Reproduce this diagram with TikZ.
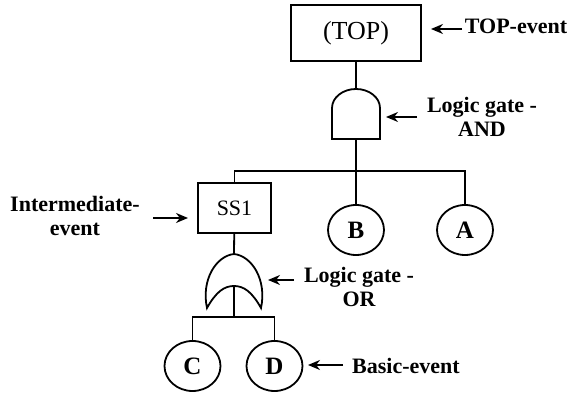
\documentclass[tikz,border=0pt]{standalone}
\usepackage{fontspec}
\setmainfont{Liberation Serif}
\usetikzlibrary{shapes.geometric,arrows.meta}

\begin{document}
\begin{tikzpicture}[x=0.5pt,y=-0.5pt,line width=0.9pt,
  event/.style={rectangle,draw,inner sep=0pt},
  basic/.style={ellipse,draw,inner sep=0pt,minimum width=28pt,minimum height=25pt,
    font=\fontsize{12.5}{14}\selectfont\bfseries},
  lbl/.style={align=center,inner sep=0pt,font=\fontsize{11}{12}\selectfont\bfseries},
  arr/.style={-{Stealth[length=6pt,width=5pt]}}]
\useasboundingbox (0,0) rectangle (585,394);

% events
\node [event,minimum width=65pt,minimum height=28pt,font=\fontsize{13}{14}\selectfont] (top) at (356,33) {(TOP)};
\node [event,minimum width=36.5pt,minimum height=25pt,font=\fontsize{11}{12}\selectfont] (ss1) at (234.5,208) {SS1};
\node [basic] (b) at (356,230) {B};
\node [basic] (a) at (465,230) {A};
\node [basic] (c) at (192.5,366) {C};
\node [basic] (d) at (274.5,366) {D};

% gates
\coordinate (and-in) at (356,89);
\coordinate (and-out) at (356,139);
\coordinate (or-in) at (234,254);
\coordinate (or-out) at (234,286);
\coordinate (bar1) at (356,171);
\coordinate (bar2) at (234,317);
\draw (332,108) .. controls (332,97.5) and (342.8,89) .. (and-in)
  .. controls (369.2,89) and (380,97.5) .. (380,108) -- (380,139) -- (332,139) -- cycle;
\draw (207,308) .. controls (201,280) and (216,256) .. (or-in)
  .. controls (252,256) and (267,280) .. (261,308)
  .. controls (252,292) and (244,286) .. (or-out)
  .. controls (224,286) and (216,292) .. cycle;

% connectors
\draw (top) -- (and-in);
\draw (and-out) -- (bar1);
\draw (ss1) |- (bar1) -| (a);
\draw (bar1) -- (b);
\draw (ss1) -- (or-in);
\draw (or-out) -- (bar2);
\draw (c) |- (bar2) -| (d);

% labels
\node [lbl] (top-lbl) at (516,26.5) {TOP-event};
\node [lbl] (and-lbl) at (482,116.5) {Logic gate -\\AND};
\node [lbl] (ss1-lbl) at (75,215.5) {Intermediate-\\event};
\node [lbl] (or-lbl) at (359,286.5) {Logic gate -\\OR};
\node [lbl] (basic-lbl) at (406,365.5) {Basic-event};
\coordinate (top-tip) at (431,29);
\coordinate (and-tip) at (386,117);
\coordinate (ss1-tip) at (188,218);
\coordinate (or-tip) at (268,280);
\coordinate (basic-tip) at (308,365);
\draw [arr] (top-tip) +(31,0) -- (top-tip);
\draw [arr] (and-tip) +(31,0) -- (and-tip);
\draw [arr] (ss1-tip) +(-35,0) -- (ss1-tip);
\draw [arr] (or-tip) +(26,0) -- (or-tip);
\draw [arr] (basic-tip) +(35,0) -- (basic-tip);
\end{tikzpicture}
\end{document}
